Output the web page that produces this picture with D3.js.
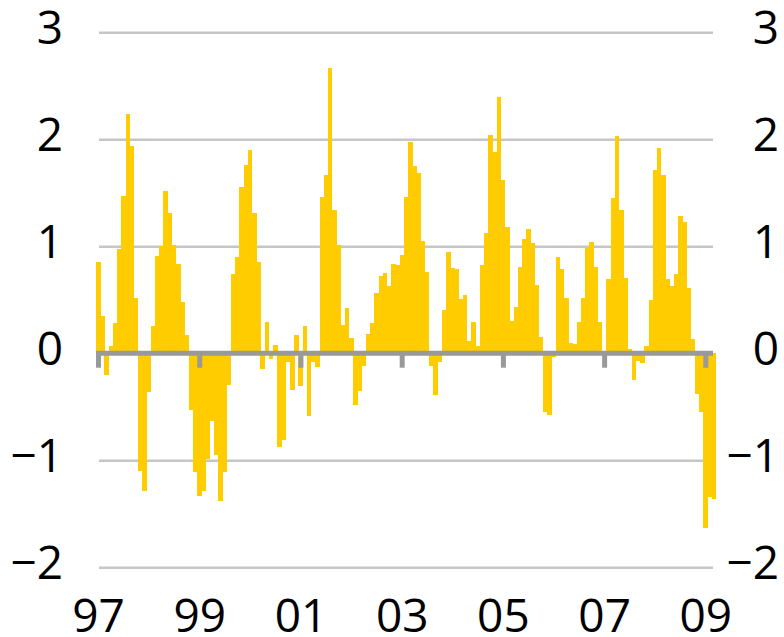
<html>
  <head>
    <meta charset="utf-8">
    <script src="https://d3js.org/d3.v7.min.js"></script>
    <style>
      body { margin: 0; background: #fff; }
      .label text {
        font-family: "Open Sans", sans-serif;
        font-size: 46px;
        fill: black;
      }
      .domain { display: none; }
    </style>
  </head>
  <body>
    <svg id="chart" width="784" height="637"></svg>
    <script>
      // monthly values, Jan 1997 .. Mar 2009
      const years = [1997, 1998, 1999, 2000, 2001, 2002, 2003, 2004, 2005, 2006, 2007, 2008, 2009];
      const v1997 = [0.85, 0.35, -0.20, 0.07, 0.28, 0.97, 1.47, 2.24, 1.94, 0.52, -1.10, -1.29];
      const v1998 = [-0.36, 0.25, 0.91, 1.00, 1.52, 1.31, 1.01, 0.83, 0.48, 0.17, -0.53, -1.11];
      const v1999 = [-1.33, -1.29, -0.99, -0.63, -0.95, -1.38, -1.11, -0.30, 0.74, 0.90, 1.55, 1.76];
      const v2000 = [1.90, 1.31, 0.85, -0.15, 0.29, -0.05, 0.075, -0.88, -0.81, -0.08, -0.34, 0.17];
      const v2001 = [-0.31, 0.25, -0.59, -0.08, -0.13, 1.46, 1.67, 2.67, 1.34, 1.01, 0.26, 0.42];
      const v2002 = [0.14, -0.48, -0.35, -0.12, 0.18, 0.28, 0.56, 0.72, 0.75, 0.63, 0.83, 0.82];
      const v2003 = [0.92, 1.46, 1.97, 1.75, 1.68, 1.05, 0.76, -0.12, -0.39, -0.08, 0.40, 0.95];
      const v2004 = [0.80, 0.79, 0.51, 0.54, 0.11, 0.29, 0.07, 0.82, 1.12, 2.04, 1.88, 2.39];
      const v2005 = [1.62, 1.18, 0.30, 0.43, 0.81, 1.07, 1.16, 1.03, 0.64, 0.15, -0.55, -0.58];
      const v2006 = [-0.04, 0.90, 0.79, 0.52, 0.10, 0.085, 0.29, 0.52, 0.98, 1.04, 0.81, 0.29];
      const v2007 = [0.0, 0.69, 1.45, 2.03, 1.34, 0.70, 0.04, -0.25, -0.07, -0.09, 0.07, 0.50];
      const v2008 = [1.71, 1.92, 1.67, 0.69, 0.63, 0.74, 1.28, 1.23, 0.61, 0.13, -0.38, -0.55];
      const v2009 = [-1.63, -1.34, -1.36];

      const yTicks = [-2, -1, 0, 1, 2, 3];
      const xTickYears = [1997, 1999, 2001, 2003, 2005, 2007, 2009];
      const xTickLabels = ["97", "99", "01", "03", "05", "07", "09"];

      const series = [v1997, v1998, v1999, v2000, v2001, v2002, v2003, v2004, v2005, v2006, v2007, v2008, v2009];
      const data = [];
      series.forEach((vals, i) => {
        vals.forEach((v, m) => data.push({key: years[i] + "-" + (m + 1), year: years[i], month: m, value: v}));
      });

      const svg = d3.select("svg#chart");
      const plotLeft = 96, plotRight = 716;
      const gridLeft = 99, gridRight = 713;

      const x = d3.scaleBand()
        .domain(data.map(d => d.key))
        .range([plotLeft, plotRight])
        .padding(0);

      const y = d3.scaleLinear()
        .domain([-2, 3])
        .range([567.2, 32.2]);

      const fmt = d3.format("d"); // uses the true minus sign

      // gridlines
      svg.append("g")
        .attr("transform", `translate(${gridLeft},0)`)
        .call(d3.axisRight(y).tickValues(yTicks.filter(t => t !== 0)).tickSize(gridRight - gridLeft).tickFormat(""))
        .call(g => g.selectAll(".tick line").attr("stroke", "#c6c6c6").attr("stroke-width", 2.5));

      // bars
      svg.append("g")
        .selectAll("rect")
        .data(data)
        .join("rect")
        .attr("x", d => x(d.key))
        .attr("width", x.bandwidth() + 0.3)
        .attr("y", d => y(Math.max(0, d.value)))
        .attr("height", d => Math.abs(y(d.value) - y(0)))
        .attr("fill", "#ffcc00")
        .attr("shape-rendering", "crispEdges");

      // zero axis line
      svg.append("line")
        .attr("x1", plotLeft).attr("x2", gridRight)
        .attr("y1", y(0)).attr("y2", y(0))
        .attr("stroke", "#999999").attr("stroke-width", 5);

      // x axis ticks + labels
      const janKeys = xTickYears.map(yr => yr + "-1");
      const xAxis = d3.axisBottom(x)
        .tickValues(janKeys)
        .tickSize(14.5)
        .tickFormat((d, i) => xTickLabels[i]);

      svg.append("g")
        .attr("class", "label")
        .attr("transform", `translate(${2.5 - x.bandwidth() / 2},${y(0)})`)
        .call(xAxis)
        .call(g => g.selectAll(".tick line").attr("stroke", "#999999").attr("stroke-width", 5))
        .call(g => g.selectAll(".tick text").attr("y", 632 - y(0)).attr("dy", 0).attr("fill", "black"));

      // y labels left
      svg.append("g")
        .attr("class", "label")
        .attr("transform", "translate(63,0)")
        .call(d3.axisLeft(y).tickValues(yTicks).tickSize(0).tickPadding(0).tickFormat(fmt))
        .call(g => g.selectAll(".tick text").attr("dy", 11).attr("fill", "black"));

      // y labels right
      svg.append("g")
        .attr("class", "label")
        .attr("transform", "translate(779,0)")
        .call(d3.axisLeft(y).tickValues(yTicks).tickSize(0).tickPadding(0).tickFormat(fmt))
        .call(g => g.selectAll(".tick text").attr("dy", 11).attr("fill", "black"));
    </script>
  </body>
</html>
